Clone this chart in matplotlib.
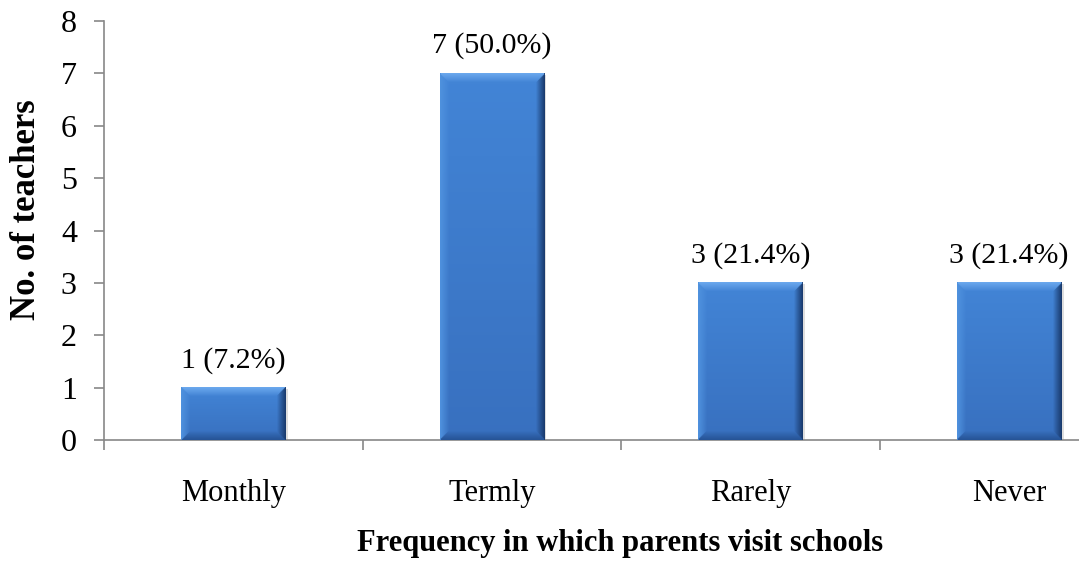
import numpy as np
import matplotlib
matplotlib.use('Agg')
import matplotlib.pyplot as plt
from matplotlib.ticker import FixedLocator, NullFormatter

plt.rcParams['font.family'] = ['Liberation Serif', 'DejaVu Serif']

# visit frequency survey
categories = ['Monthly', 'Termly', 'Rarely', 'Never']
teachers = [1, 7, 3, 3]
percents = [7.2, 50.0, 21.4, 21.4]

fig = plt.figure(figsize=(10.79, 5.61), dpi=100)
ax = fig.add_axes([104 / 1079, 1 - 440 / 561, 1 - 104 / 1079, 419 / 561])

x = np.arange(len(categories))
bar_w = 0.405
bars = ax.bar(x, teachers, width=bar_w, color='#3F7FCF', zorder=2)

ax.set_xlim(-0.5, 3 + (1079 - 1009) / 259)
ax.set_ylim(0, 8)

# bevelled fill for every bar (Excel-like look)
bx = 8 / 259     # bevel width in data units
by = 8 / 52.4
top_c = np.array([0.42, 0.66, 0.93])
bot_c = np.array([0.15, 0.33, 0.59])
left_c = np.array([0.31, 0.57, 0.87])
right_c = np.array([0.10, 0.23, 0.43])
body_hi = np.array([0.26, 0.52, 0.84])
body_lo = np.array([0.22, 0.44, 0.75])

for b in bars:
    x0, w = b.get_x(), b.get_width()
    h = b.get_height()
    nx, ny = 120, max(int(h * 60), 60)
    xs = np.linspace(x0, x0 + w, nx)
    ys = np.linspace(h, 0, ny)
    X, Y = np.meshgrid(xs, ys)
    t = (Y / h)[..., None]
    img = body_lo + (body_hi - body_lo) * t
    d = np.stack([(X - x0) / bx, (x0 + w - X) / bx, (h - Y) / by, Y / by])
    side = d.argmin(axis=0)
    dm = d.min(axis=0)
    for k, c in enumerate([left_c, right_c, top_c, bot_c]):
        m = (side == k) & (dm < 1)
        f = (1 - dm[m])[:, None] * 0.9 + 0.1
        img[m] = img[m] * (1 - f) + c * f
    # shadow to the right
    ax.bar(b.get_x() + b.get_width() / 2 + 0.008, h, width=w, bottom=-0.03,
           color='#c8c8c8', alpha=0.6, zorder=1, linewidth=0)
    ax.imshow(np.clip(img, 0, 1), extent=(x0, x0 + w, 0, h), aspect='auto',
              interpolation='bilinear', zorder=3)

for xi, n, p in zip(x, teachers, percents):
    ax.annotate(f'{n} ({p:.1f}%)', (xi, n), xytext=(0, 10), textcoords='offset points',
                ha='center', va='bottom', fontsize=21.5)

for s in ['top', 'right']:
    ax.spines[s].set_visible(False)
for s in ['left', 'bottom']:
    ax.spines[s].set_color('#888888')
    ax.spines[s].set_linewidth(1.2)

ax.set_yticks(range(0, 9))
ax.tick_params(axis='y', length=7.5, color='#888888', width=1.2, labelsize=23, pad=12)

# category ticks at the boundaries, labels at the centres
ax.xaxis.set_major_locator(FixedLocator([-0.5, 0.5, 1.5, 2.5, 3.5]))
ax.xaxis.set_major_formatter(NullFormatter())
ax.xaxis.set_minor_locator(FixedLocator(x))
ax.set_xticklabels(categories, minor=True)
ax.tick_params(axis='x', which='major', length=7, color='#888888', width=1.2)
ax.tick_params(axis='x', which='minor', length=0, labelsize=22, pad=28)

ax.set_xlabel('Frequency in which parents visit schools', fontsize=22, fontweight='bold',
              ha='center', va='center')
ax.xaxis.set_label_coords((620 - 104) / 975, (440 - 543) / 419)
ax.set_ylabel('No. of teachers', fontsize=25, fontweight='bold', ha='center', va='center')
ax.yaxis.set_label_coords((27 - 104) / 975, (440 - 210) / 419)

fig.savefig('out.png', dpi=100)
